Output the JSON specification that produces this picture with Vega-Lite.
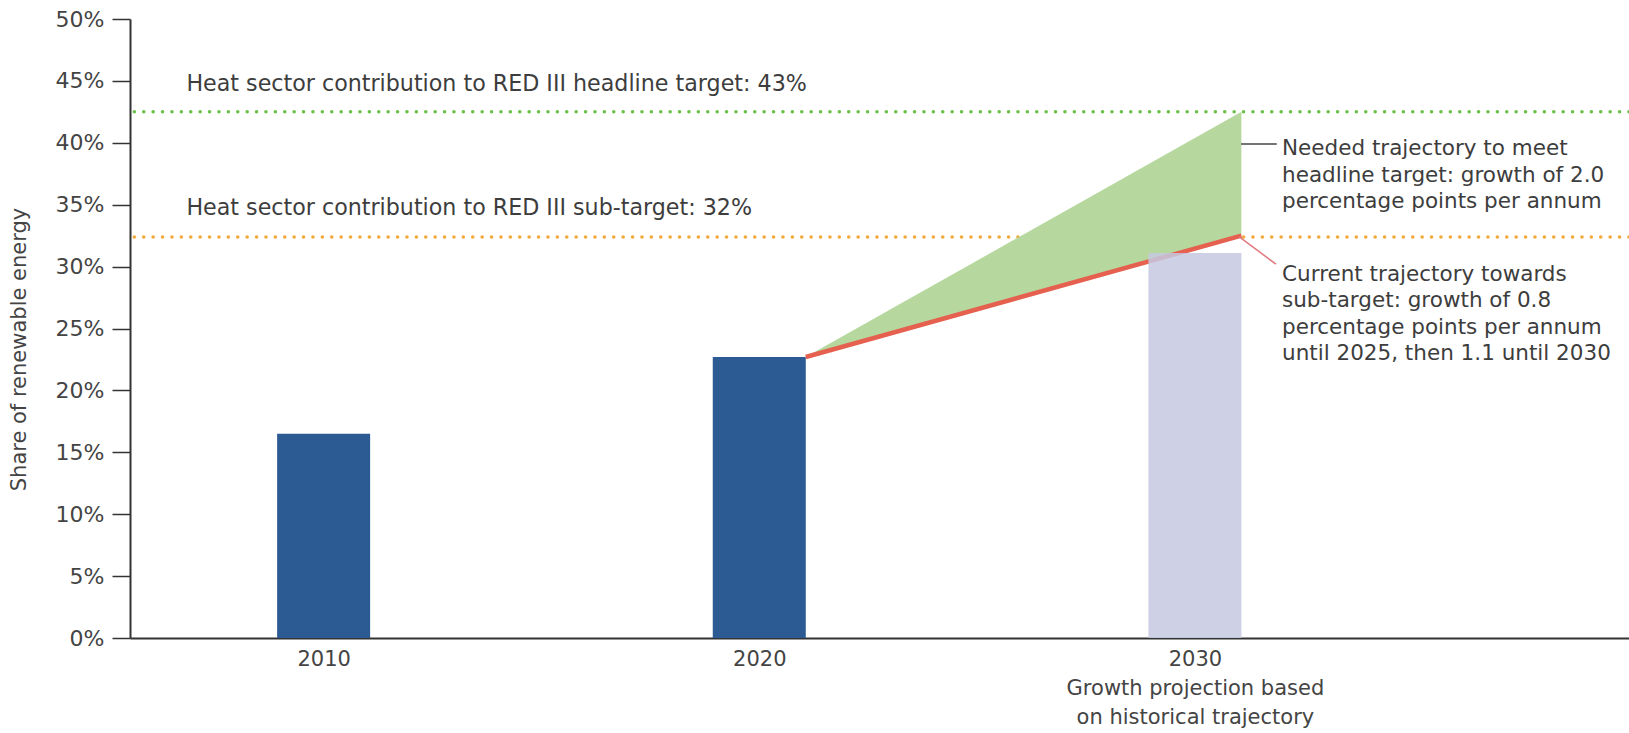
{
  "$schema": "https://vega.github.io/schema/vega-lite/v6.json",
  "width": 1499,
  "height": 619,
  "autosize": {"type": "none"},
  "padding": {"left": 130, "top": 19, "right": 0, "bottom": 95},
  "background": "white",
  "config": {"view": {"stroke": null}, "font": "DejaVu Sans"},
  "datasets": {
    "bars": [
      {"year": 2010, "share": 16.5},
      {"year": 2020, "share": 22.7}
    ],
    "proj": [{"year": 2030, "share": 31.1}],
    "targets": [
      {"target": "headline", "share": 42.5},
      {"target": "sub", "share": 32.4}
    ],
    "traj": [
      {"year": 2020, "needed": 22.7, "current": 22.7},
      {"year": 2030, "needed": 42.5, "current": 32.5}
    ],
    "leaderNeeded": [{"x": 2031.06, "x2": 2031.88, "y": 39.9, "y2": 39.9}],
    "leaderCurrent": [{"x": 2031.02, "x2": 2031.86, "y": 32.4, "y2": 30.2}],
    "targetLabels": [
      {"year": 2006.85, "share": 44.75, "label": "Heat sector contribution to RED III headline target: 43%"},
      {"year": 2006.85, "share": 34.73, "label": "Heat sector contribution to RED III sub-target: 32%"}
    ],
    "notes": [
      {"year": 2032.0, "share": 40.35, "label": "Needed trajectory to meet\nheadline target: growth of 2.0\npercentage points per annum"},
      {"year": 2032.0, "share": 30.25, "label": "Current trajectory towards\nsub-target: growth of 0.8\npercentage points per annum\nuntil 2025, then 1.1 until 2030"}
    ]
  },
  "layer": [
    {
      "data": {"name": "bars"},
      "mark": {"type": "bar", "color": "#2c5a93", "width": 93},
      "encoding": {
        "x": {
          "field": "year", "type": "quantitative",
          "scale": {"domain": [2005.67, 2039.85], "nice": false, "zero": false},
          "axis": {
            "values": [2010, 2020, 2030],
            "labelExpr": "datum.value == 2030 ? ['2030', 'Growth projection based', 'on historical trajectory'] : datum.value + ''",
            "ticks": false, "grid": false, "title": null,
            "domainColor": "#333333", "domainWidth": 2,
            "labelFontSize": 21, "labelColor": "#444444", "labelPadding": 10,
            "labelLineHeight": 29, "labelFlush": false, "labelOverlap": false, "labelLimit": 0
          }
        },
        "y": {
          "field": "share", "type": "quantitative",
          "scale": {"domain": [0, 50], "nice": false},
          "axis": {
            "values": [0, 5, 10, 15, 20, 25, 30, 35, 40, 45, 50],
            "labelExpr": "datum.value + '%'",
            "grid": false, "tickSize": 18, "tickColor": "#333333", "tickWidth": 1.5,
            "domainColor": "#333333", "domainWidth": 2,
            "labelFontSize": 22, "labelColor": "#444444", "labelPadding": 8,
            "title": "Share of renewable energy", "titleFontSize": 21, "titleFontWeight": "normal",
            "titleColor": "#444444", "titleX": -111, "titleY": 330, "titleBaseline": "middle", "titleAlign": "center"
          }
        }
      }
    },
    {
      "data": {"name": "targets"},
      "mark": {"type": "rule", "strokeDash": [0.1, 9.3], "strokeCap": "round", "strokeWidth": 3.5},
      "encoding": {
        "y": {"field": "share", "type": "quantitative"},
        "color": {"field": "target", "type": "nominal", "scale": {"domain": ["headline", "sub"], "range": ["#6cc04a", "#f2a93b"]}, "legend": null}
      }
    },
    {
      "data": {"name": "traj"},
      "mark": {"type": "area", "color": "#b6d89e", "xOffset": 46.5},
      "encoding": {
        "x": {"field": "year", "type": "quantitative"},
        "y": {"field": "current", "type": "quantitative"},
        "y2": {"field": "needed"}
      }
    },
    {
      "data": {"name": "traj"},
      "mark": {"type": "line", "color": "#e5604f", "strokeWidth": 4.5, "xOffset": 46.5},
      "encoding": {
        "x": {"field": "year", "type": "quantitative"},
        "y": {"field": "current", "type": "quantitative"}
      }
    },
    {
      "data": {"name": "proj"},
      "mark": {"type": "bar", "color": "#c5c9e1", "opacity": 0.85, "width": 93},
      "encoding": {
        "x": {"field": "year", "type": "quantitative"},
        "y": {"field": "share", "type": "quantitative"}
      }
    },
    {
      "data": {"name": "leaderNeeded"},
      "mark": {"type": "rule", "color": "#444444", "strokeWidth": 1.5},
      "encoding": {
        "x": {"field": "x", "type": "quantitative"},
        "x2": {"field": "x2"},
        "y": {"field": "y", "type": "quantitative"},
        "y2": {"field": "y2"}
      }
    },
    {
      "data": {"name": "leaderCurrent"},
      "mark": {"type": "rule", "color": "#e07a80", "strokeWidth": 1.5},
      "encoding": {
        "x": {"field": "x", "type": "quantitative"},
        "x2": {"field": "x2"},
        "y": {"field": "y", "type": "quantitative"},
        "y2": {"field": "y2"}
      }
    },
    {
      "data": {"name": "targetLabels"},
      "mark": {"type": "text", "align": "left", "baseline": "middle", "fontSize": 22.2, "color": "#3d3d3d"},
      "encoding": {
        "x": {"field": "year", "type": "quantitative"},
        "y": {"field": "share", "type": "quantitative"},
        "text": {"field": "label"}
      }
    },
    {
      "data": {"name": "notes"},
      "mark": {"type": "text", "align": "left", "baseline": "top", "fontSize": 21.5, "lineHeight": 26.5, "lineBreak": "\n", "color": "#3d3d3d"},
      "encoding": {
        "x": {"field": "year", "type": "quantitative"},
        "y": {"field": "share", "type": "quantitative"},
        "text": {"field": "label"}
      }
    }
  ]
}
